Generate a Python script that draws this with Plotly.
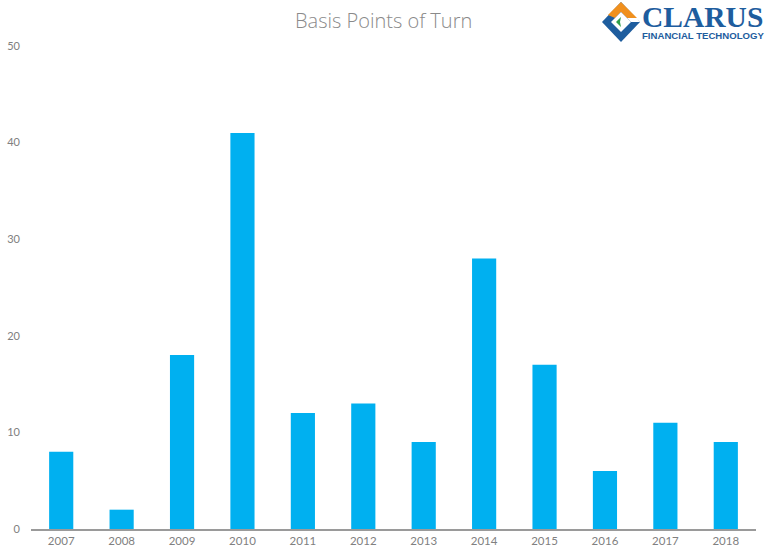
import plotly.graph_objects as go

years = ["2007", "2008", "2009", "2010", "2011", "2012", "2013", "2014", "2015", "2016", "2017", "2018"]
bps = [8, 2, 18, 41, 12, 13, 9, 28, 17, 6, 11, 9]
y_ticks = [0, 10, 20, 30, 40, 50]

W, H = 768, 557
L, R, T, B = 31, 12, 46, 28
PW, PH = W - L - R, H - T - B

def px(x):
    return (x - L) / PW

def py(y):
    return (H - B - y) / PH

def path(points):
    return "M " + " L ".join(f"{px(a):.5f},{py(b):.5f}" for a, b in points) + " Z"

fig = go.Figure(go.Bar(x=years, y=bps, marker=dict(color="#00B0F0", line=dict(width=0)), width=0.4))

shapes = [
    dict(type="path", xref="paper", yref="paper", path=path([(621, 2), (640, 22), (621, 42), (602, 22)]),
         fillcolor="#1E5D9E", line=dict(width=0)),
    dict(type="path", xref="paper", yref="paper", path=path([(608, 15), (621, 2), (637, 18), (627, 18), (621, 12), (615, 18)]),
         fillcolor="#F0901E", line=dict(width=0)),
    dict(type="path", xref="paper", yref="paper", path=path([(621, 12), (631, 22), (621, 32), (611, 22)]),
         fillcolor="#FFFFFF", line=dict(width=0)),
    dict(type="path", xref="paper", yref="paper", path=path([(627, 18), (637, 18), (640, 22), (631, 22)]),
         fillcolor="#FFFFFF", line=dict(width=0)),
    dict(type="path", xref="paper", yref="paper", path=path([(616, 22), (621, 17), (620, 22), (621, 27)]),
         fillcolor="#2E9E4A", line=dict(width=0)),
]

logo_text = ("<span style='font-family:Liberation Serif, DejaVu Serif, serif;font-size:29.5px'><b>CLARUS</b></span>"
             "<br><b>FINANCIAL TECHNOLOGY</b>")

annotations = [
    dict(text="Basis Points of Turn", xref="paper", yref="paper", x=px(383), y=py(20),
         xanchor="center", yanchor="middle", showarrow=False,
         font=dict(family="Open Sans, Lato, sans-serif", size=20, weight=300, color="#8a8a8a")),
    dict(text=logo_text, xref="paper", yref="paper", x=px(641), y=py(21),
         xanchor="left", yanchor="middle", align="left", showarrow=False, borderpad=0,
         font=dict(family="Liberation Sans, Arial, sans-serif", size=9.6, color="#1E5D9E")),
]

fig.update_layout(
    width=W, height=H, autosize=False,
    margin=dict(l=L, r=R, t=T, b=B, pad=0, autoexpand=False),
    paper_bgcolor="white", plot_bgcolor="white",
    showlegend=False,
    shapes=shapes, annotations=annotations,
    font=dict(family="Lato, Open Sans, sans-serif", size=11, color="#808080"),
    xaxis=dict(showgrid=False, showline=True, linecolor="#9a9a9a", linewidth=1.5, automargin=False,
               ticks="", tickfont=dict(size=11.5, color="#808080"), fixedrange=True),
    yaxis=dict(range=[0, 50], tickvals=y_ticks, showgrid=False, showline=False, zeroline=False,
               automargin=False, ticks="", ticklabelstandoff=10,
               tickfont=dict(size=11, color="#808080"), fixedrange=True),
)

fig.write_html("out.html", config={"displayModeBar": False},
               post_script="document.body.style.margin='0';document.body.style.overflow='hidden';")
